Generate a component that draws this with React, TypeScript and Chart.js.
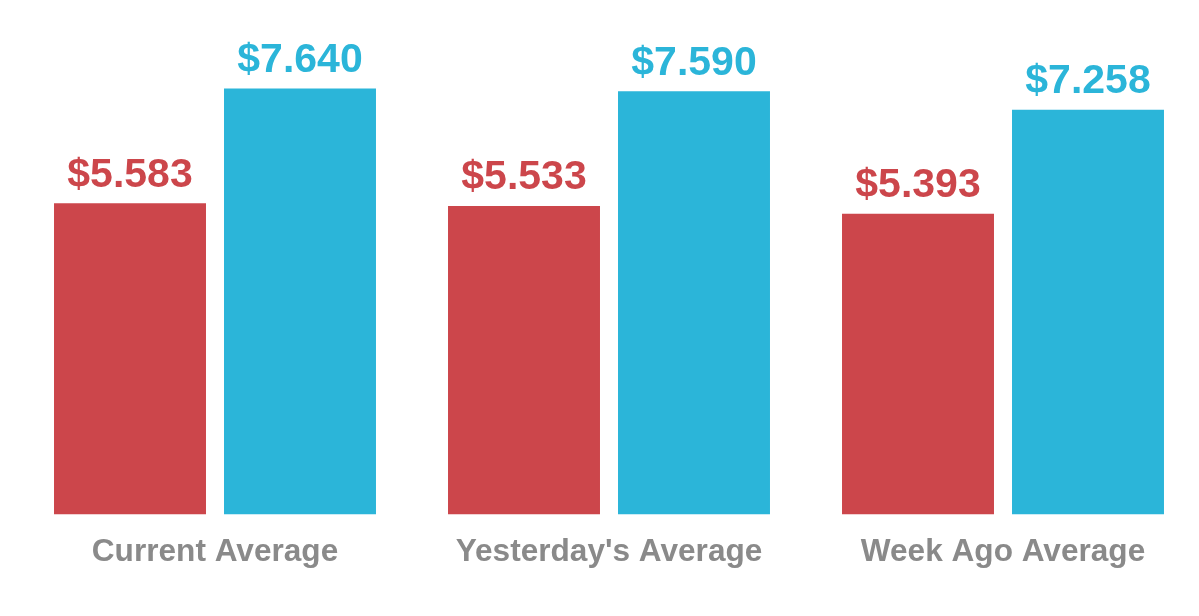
import React, { useEffect, useRef } from "react";
import { Chart, registerables } from "chart.js";

Chart.register(...registerables);

const categories = ["Current Average", "Yesterday's Average", "Week Ago Average"];
const redValues = [5.583, 5.533, 5.393];
const blueValues = [7.64, 7.59, 7.258];
const RED = "#CC464B";
const BLUE = "#2BB5D9";
const GRAY = "#8A8A8A";
const FONT = "'Liberation Sans', Arial, Helvetica, sans-serif";

const valueLabelPlugin = {
  id: "valueLabels",
  afterDatasetsDraw(chart: any) {
    const ctx = chart.ctx;
    ctx.save();
    ctx.font = `bold 41px ${FONT}`;
    ctx.textAlign = "center";
    ctx.textBaseline = "alphabetic";
    chart.data.datasets.forEach((ds: any, di: number) => {
      const meta = chart.getDatasetMeta(di);
      meta.data.forEach((bar: any, i: number) => {
        ctx.fillStyle = ds.backgroundColor;
        ctx.fillText("$" + Number(ds.data[i]).toFixed(3), bar.x, bar.y - 16.5);
      });
    });
    ctx.restore();
  },
};

export default function App() {
  const ref = useRef<HTMLCanvasElement>(null);
  useEffect(() => {
    if (!ref.current) return;
    const chart = new Chart(ref.current, {
      type: "bar",
      data: {
        labels: categories,
        datasets: [
          { data: redValues, backgroundColor: RED, borderWidth: 0 },
          { data: blueValues, backgroundColor: BLUE, borderWidth: 0 },
        ],
      },
      options: {
        responsive: false,
        animation: false,
        layout: { padding: { left: 18, right: 0, top: 12.6, bottom: 26.6 } },
        datasets: {
          bar: { categoryPercentage: 0.8629, barPercentage: 0.894 },
        },
        plugins: {
          legend: { display: false },
          tooltip: { enabled: false },
        },
        scales: {
          x: {
            grid: { display: false, drawTicks: false },
            border: { display: false },
            ticks: {
              padding: 18.5,
              color: GRAY,
              font: { family: FONT, size: 31.6, weight: "bold" },
            },
          },
          y: {
            display: false,
            min: 0,
            max: 9,
          },
        },
      },
      plugins: [valueLabelPlugin],
    } as any);
    return () => chart.destroy();
  }, []);
  return (
    <div style={{ position: "fixed", left: 0, top: 0, width: 1200, height: 616, background: "#fff" }}>
      <canvas ref={ref} width={1200} height={616} style={{ display: "block" }} />
    </div>
  );
}
